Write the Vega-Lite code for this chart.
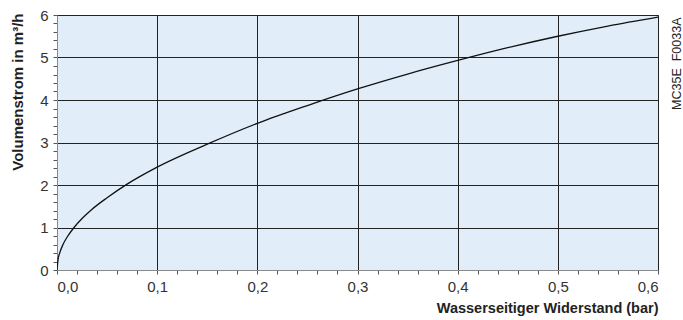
{
  "$schema": "https://vega.github.io/schema/vega-lite/v6.json",
  "width": 601,
  "height": 255,
  "autosize": {"type": "none"},
  "padding": {"left": 57, "top": 15, "right": 25, "bottom": 50},
  "background": "white",
  "config": {
    "font": "Liberation Sans",
    "view": {"fill": "#e1eefa", "stroke": "#8a8a8a", "strokeWidth": 1},
    "axis": {
      "labelFont": "Liberation Sans",
      "titleFont": "Liberation Sans",
      "labelColor": "#333333",
      "titleColor": "#222222",
      "domainColor": "#8a8a8a",
      "tickColor": "#555555"
    }
  },
  "data": {
    "values": [
      {"p": 0, "q": 0},
      {"p": 0.001, "q": 0.24},
      {"p": 0.003, "q": 0.42},
      {"p": 0.006, "q": 0.6},
      {"p": 0.01, "q": 0.77},
      {"p": 0.017, "q": 1.0},
      {"p": 0.025, "q": 1.21},
      {"p": 0.035, "q": 1.43},
      {"p": 0.05, "q": 1.7},
      {"p": 0.07, "q": 2.02},
      {"p": 0.1, "q": 2.42},
      {"p": 0.15, "q": 2.96},
      {"p": 0.2, "q": 3.45},
      {"p": 0.25, "q": 3.87},
      {"p": 0.3, "q": 4.26},
      {"p": 0.35, "q": 4.61},
      {"p": 0.4, "q": 4.93},
      {"p": 0.45, "q": 5.23},
      {"p": 0.5, "q": 5.5},
      {"p": 0.55, "q": 5.74},
      {"p": 0.6, "q": 5.95}
    ]
  },
  "layer": [
    {
      "mark": {"type": "line", "color": "#111111", "strokeWidth": 1.3, "interpolate": "monotone", "clip": true},
      "encoding": {
        "x": {
          "field": "p",
          "type": "quantitative",
          "scale": {"domain": [0, 0.6], "nice": false},
          "axis": {
            "values": [0, 0.02, 0.04, 0.06, 0.08, 0.1, 0.12, 0.14, 0.16, 0.18, 0.2, 0.22, 0.24, 0.26, 0.28, 0.3, 0.32, 0.34, 0.36, 0.38, 0.4, 0.42, 0.44, 0.46, 0.48, 0.5, 0.52, 0.54, 0.56, 0.58, 0.6],
            "tickCount": 200,
            "labelExpr": "abs(datum.value*10 - round(datum.value*10)) < 0.001 ? replace(format(datum.value, '.1f'), '.', ',') : ''",
            "labelFontSize": 15,
            "labelPadding": 5,
            "tickSize": 4,
            "grid": true,
            "gridColor": "#222222",
            "gridWidth": 1,
            "gridOpacity": {"condition": {"test": "abs(datum.value*10 - round(datum.value*10)) < 0.001", "value": 1}, "value": 0},
            "title": "Wasserseitiger Widerstand (bar)",
            "titleFontSize": 14.5,
            "titleFontWeight": "bold",
            "titleX": 601,
            "titleY": 38,
            "titleAlign": "right",
            "titleBaseline": "middle",
            "labelOverlap": false
          }
        },
        "y": {
          "field": "q",
          "type": "quantitative",
          "scale": {"domain": [0, 6], "nice": false},
          "axis": {
            "values": [0, 0.2, 0.4, 0.6, 0.8, 1, 1.2, 1.4, 1.6, 1.8, 2, 2.2, 2.4, 2.6, 2.8, 3, 3.2, 3.4, 3.6, 3.8, 4, 4.2, 4.4, 4.6, 4.8, 5, 5.2, 5.4, 5.6, 5.8, 6],
            "tickCount": 200,
            "labelExpr": "abs(datum.value - round(datum.value)) < 0.001 ? format(datum.value, 'd') : ''",
            "labelFontSize": 15,
            "labelPadding": 5,
            "labelBaseline": "middle",
            "tickSize": 4,
            "grid": true,
            "gridColor": "#222222",
            "gridWidth": 1,
            "gridOpacity": {"condition": {"test": "abs(datum.value - round(datum.value)) < 0.001", "value": 1}, "value": 0},
            "title": "Volumenstrom in m³/h",
            "titleFontSize": 15,
            "titleFontWeight": "bold",
            "titleAngle": -90,
            "titleX": -40,
            "titleY": -2,
            "titleAlign": "right",
            "titleBaseline": "middle",
            "labelOverlap": false
          }
        }
      }
    },
    {
      "mark": {"type": "line", "strokeOpacity": 0},
      "encoding": {
        "x": {"field": "p", "type": "quantitative"},
        "y": {
          "field": "q",
          "type": "quantitative",
          "axis": {
            "orient": "right",
            "labels": false,
            "ticks": false,
            "domain": false,
            "grid": false,
            "title": "MC35E\u00a0\u00a0F0033A",
            "titleFontSize": 12.5,
            "titleFontWeight": "normal",
            "titleColor": "#222222",
            "titleAngle": -90,
            "titleX": 18,
            "titleY": 2,
            "titleAlign": "right",
            "titleBaseline": "middle"
          }
        }
      }
    }
  ],
  "resolve": {"axis": {"y": "independent"}}
}
